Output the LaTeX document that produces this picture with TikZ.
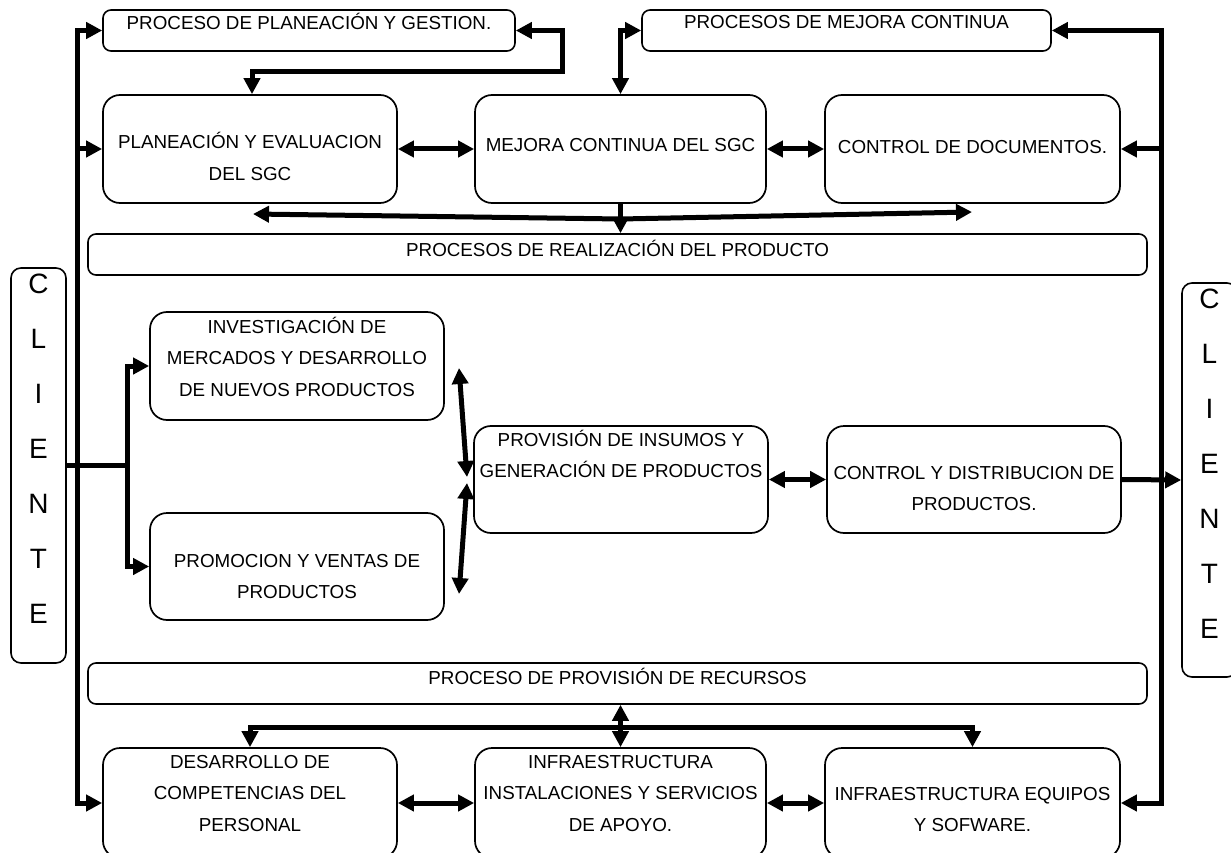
\documentclass[tikz,border=0pt]{standalone}
\usepackage{fontspec}
\setmainfont{Liberation Sans}
\usetikzlibrary{arrows.meta}
\begin{document}
\begin{tikzpicture}[x=1pt,y=-1pt,
  box/.style={draw, line width=1.7pt, rounded corners=17pt, inner sep=0pt},
  bar/.style={draw, line width=1.6pt, rounded corners=8pt, inner sep=0pt},
  txt/.style={align=center, inner sep=0pt, font=\fontsize{18.8}{31.5}\selectfont,
    execute at begin node=\strut, execute at end node=\strut},
  big/.style={align=center, inner sep=0pt, font=\fontsize{28}{55}\selectfont,
    execute at begin node=\strut, execute at end node=\strut},
  link/.style={line width=5pt},
  flow/.style={line width=5pt, -{Triangle[length=16pt,width=16pt]}},
  both/.style={line width=5pt, {Triangle[length=16pt,width=16pt]}-{Triangle[length=16pt,width=16pt]}},
]
\useasboundingbox (0,0) rectangle (1231,853);

% --- boxes ---
\node[bar, minimum width=412pt, minimum height=41pt] (P1) at (309,30.5) {};
\node[bar, minimum width=409pt, minimum height=41pt] (P2) at (846.5,30.5) {};
\node[box, minimum width=294pt, minimum height=108pt] (A) at (250,149) {};
\node[box, minimum width=291pt, minimum height=108pt] (B) at (620.5,149) {};
\node[box, minimum width=295pt, minimum height=108pt] (C) at (972.5,149) {};
\node[bar, minimum width=1059pt, minimum height=41pt] (R1) at (617.5,254.5) {};
\node[bar, rounded corners=10pt, minimum width=55pt, minimum height=395pt] (CL) at (38.5,465.5) {};
\node[bar, rounded corners=10pt, minimum width=55pt, minimum height=394pt] (CR) at (1209.5,480) {};
\node[box, minimum width=294pt, minimum height=108pt] (D) at (297,366) {};
\node[box, minimum width=294pt, minimum height=107pt] (E) at (297,566.5) {};
\node[box, minimum width=294pt, minimum height=107pt] (F) at (621,479.5) {};
\node[box, minimum width=294pt, minimum height=107pt] (G) at (974,479.5) {};
\node[bar, minimum width=1059pt, minimum height=41pt] (R2) at (617.5,683.5) {};
\node[box, minimum width=294pt, minimum height=110pt] (H) at (250,803) {};
\node[box, minimum width=291pt, minimum height=110pt] (I) at (620.5,803) {};
\node[box, minimum width=295pt, minimum height=110pt] (J) at (972.5,803) {};

% --- labels ---
\node[txt] (tP1) at (309,23) {PROCESO DE PLANEACIÓN Y GESTION.};
\node[txt] (tP2) at (846.5,22) {PROCESOS DE MEJORA CONTINUA};
\node[txt] (tA) at (250,161) {PLANEACIÓN Y EVALUACION\\DEL SGC};
\node[txt] (tB) at (620.5,145) {MEJORA CONTINUA DEL SGC};
\node[txt] (tC) at (972.5,147) {CONTROL DE DOCUMENTOS.};
\node[txt] (tR1) at (617.5,250) {PROCESOS DE REALIZACIÓN DEL PRODUCTO};
\node[big] (tCL) at (38.5,457) {C\\L\\I\\E\\N\\T\\E};
\node[big] (tCR) at (1209.5,472) {C\\L\\I\\E\\N\\T\\E};
\node[txt] (tD) at (297,361.5) {INVESTIGACIÓN DE\\MERCADOS Y DESARROLLO\\DE NUEVOS PRODUCTOS};
\node[txt] (tE) at (297,581) {PROMOCION Y VENTAS DE\\PRODUCTOS};
\node[txt] (tF) at (621,458.5) {PROVISIÓN DE INSUMOS Y\\GENERACIÓN DE PRODUCTOS};
\node[txt] (tG) at (974,493) {CONTROL Y DISTRIBUCION DE\\PRODUCTOS.};
\node[txt] (tR2) at (617.5,678) {PROCESO DE PROVISIÓN DE RECURSOS};
\node[txt] (tH) at (250,798) {DESARROLLO DE\\COMPETENCIAS DEL\\PERSONAL};
\node[txt] (tI) at (620.5,798) {INFRAESTRUCTURA\\INSTALACIONES Y SERVICIOS\\DE APOYO.};
\node[txt] (tJ) at (972.5,814) {INFRAESTRUCTURA EQUIPOS\\Y SOFWARE.};

% --- bus and junction points ---
\coordinate (lt) at (77,30.5);
\coordinate (lb) at (77,803);
\coordinate (la) at (77,149);
\coordinate (rt) at (1161,30.5);
\coordinate (rb) at (1161,803);
\coordinate (rc) at (1161,149);
\coordinate (p1a) at (562,30.5);
\coordinate (p1b) at (562,72);
\coordinate (p1c) at (252,72);
\coordinate (p2a) at (620.5,30.5);
\coordinate (jt) at (620.5,219);
\coordinate (ml) at (253,214);
\coordinate (mr) at (972,212);
\coordinate (bx) at (127,465.5);
\coordinate (bd) at (127,366);
\coordinate (be) at (127,566.5);
\coordinate (dt) at (459,368);
\coordinate (dm) at (467,477);
\coordinate (eb) at (459,594);
\coordinate (em) at (467,483);
\coordinate (hb) at (250,727);
\coordinate (jb) at (972.5,727);

% --- left and right buses ---
\draw[both] (P1.west) -- (lt) -- (lb) -- (H.west);
\draw[flow] (la) -- (A.west);
\draw[both] (P2.east) -- (rt) -- (rb) -- (J.east);
\draw[flow] (rc) -- (C.east);

% --- upper loops ---
\draw[both] (P1.east) -- (p1a) -- (p1b) -- (p1c) -- (p1c |- A.north);
\draw[both] (P2.west) -- (p2a) -- (B.north);

% --- top row links ---
\draw[both] (A.east) -- (B.west);
\draw[both] (B.east) -- (C.west);

% --- merge into realisation bar ---
\draw[link] (B.south) -- (jt);
\draw[flow] (jt) -- (jt |- R1.north);
\draw[flow] (jt) -- (ml);
\draw[flow] (jt) -- (mr);

% --- client branch ---
\draw[link] (CL.east) -- (bx);
\draw[both] (D.west) -- (bd) -- (be) -- (E.west);
\draw[both] (dt) -- (dm);
\draw[both] (eb) -- (em);
\draw[both] (F.east) -- (G.west);
\draw[flow] (G.east) -- (CR.west);

% --- resources ---
\draw[both] (I.north |- R2.south) -- (I.north);
\draw[both] (H.north) -- (hb) -- (jb) -- (J.north);
\draw[both] (H.east) -- (I.west);
\draw[both] (I.east) -- (J.west);
\end{tikzpicture}
\end{document}
